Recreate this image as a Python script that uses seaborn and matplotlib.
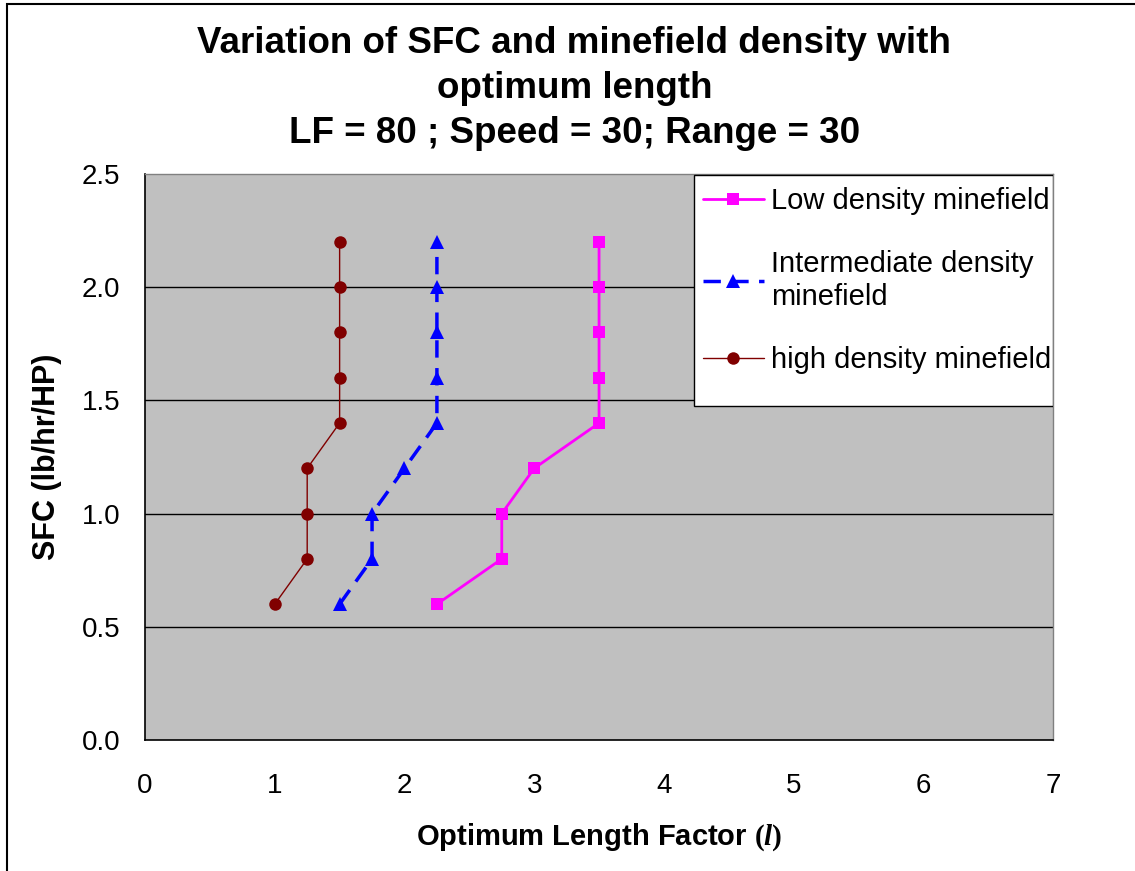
import matplotlib
matplotlib.use("Agg")
import matplotlib.pyplot as plt
import seaborn as sns
import pandas as pd
from matplotlib.patches import Rectangle

sfc = [0.6, 0.8, 1.0, 1.2, 1.4, 1.6, 1.8, 2.0, 2.2]
low_len = [2.25, 2.75, 2.75, 3.0, 3.5, 3.5, 3.5, 3.5, 3.5]
inter_len = [1.5, 1.75, 1.75, 2.0, 2.25, 2.25, 2.25, 2.25, 2.25]
high_len = [1.0, 1.25, 1.25, 1.25, 1.5, 1.5, 1.5, 1.5, 1.5]
series_names = ["Low density minefield", "Intermediate density\nminefield", "high density minefield"]
x_ticks = [0, 1, 2, 3, 4, 5, 6, 7]
y_ticks = [0.0, 0.5, 1.0, 1.5, 2.0, 2.5]

sns.set_style("white")
plt.rcParams['font.family'] = ['Liberation Sans', 'DejaVu Sans']
plt.rcParams['text.color'] = 'black'
plt.rcParams['axes.labelcolor'] = 'black'
plt.rcParams['xtick.color'] = 'black'
plt.rcParams['ytick.color'] = 'black'
plt.rcParams['mathtext.fontset'] = 'custom'
plt.rcParams['mathtext.rm'] = 'Liberation Serif:bold'
plt.rcParams['mathtext.it'] = 'Liberation Serif:italic:bold'

fig = plt.figure(figsize=(11.35, 8.71), dpi=100)
ax = fig.add_axes([0.1278, 0.1504, 0.8, 0.6498])
ax.set_facecolor("#C0C0C0")

styles = [
    dict(color="#FF00FF", marker="s", markersize=9, linewidth=2, linestyle="-"),
    dict(color="#0000FF", marker="^", markersize=10, linewidth=2.5, linestyle=(0, (5, 3))),
    dict(color="#800000", marker="o", markersize=9, linewidth=1, linestyle="-"),
]
for xs, name, st in zip([low_len, inter_len, high_len], series_names, styles):
    df = pd.DataFrame({"x": xs, "y": sfc})
    sns.lineplot(data=df, x="x", y="y", sort=False, estimator=None, ax=ax,
                 label=name, markeredgewidth=0, **st)

ax.set_xlim(0, 7)
ax.set_ylim(0, 2.5)
ax.set_xticks(x_ticks)
ax.set_yticks(y_ticks)
ax.set_yticklabels([f"{v:.1f}" for v in y_ticks])
for v in y_ticks[1:-1]:
    ax.axhline(v, color="black", linewidth=1, zorder=0.5)

ax.tick_params(axis="both", direction="out", length=8, width=1, labelsize=20, color="black", pad=10)
ax.tick_params(axis="x", pad=16)
for s in ["left", "bottom"]:
    ax.spines[s].set_color("black")
    ax.spines[s].set_linewidth(1.2)
for s in ["top", "right"]:
    ax.spines[s].set_color("#808080")
    ax.spines[s].set_linewidth(1)

ax.set_xlabel(r"Optimum Length Factor $(l)$", fontsize=21, fontweight="bold", labelpad=16)
ax.set_ylabel("SFC (lb/hr/HP)", fontsize=22, fontweight="bold", labelpad=14)

fig.text(0.506, 0.970, "Variation of SFC and minefield density with\noptimum length\nLF = 80 ; Speed = 30; Range = 30",
         ha="center", va="top", fontsize=26.5, fontweight="bold", linespacing=1.36)

# legend box (Excel-style, flush with the plot's top-right corner)
ax.add_patch(Rectangle((0.6046, 0.590), 1 - 0.6046, 0.408, transform=ax.transAxes,
                       facecolor="white", edgecolor="black", linewidth=1, zorder=4))
leg = ax.legend(loc="upper left", bbox_to_anchor=(0.6046, 0.993), borderaxespad=0,
                fontsize=21, frameon=False, handlelength=2.1,
                labelspacing=1.2, borderpad=0.3, handletextpad=0.25)
for t in leg.get_texts():
    t.set_linespacing(1.25)
leg.set_zorder(5)

fig.patches.append(Rectangle((7/1135, -0.1), 1.2, 1 - 4/871 + 0.1, transform=fig.transFigure,
                             fill=False, edgecolor="black", linewidth=1.5))

fig.savefig("out.png", dpi=100)
